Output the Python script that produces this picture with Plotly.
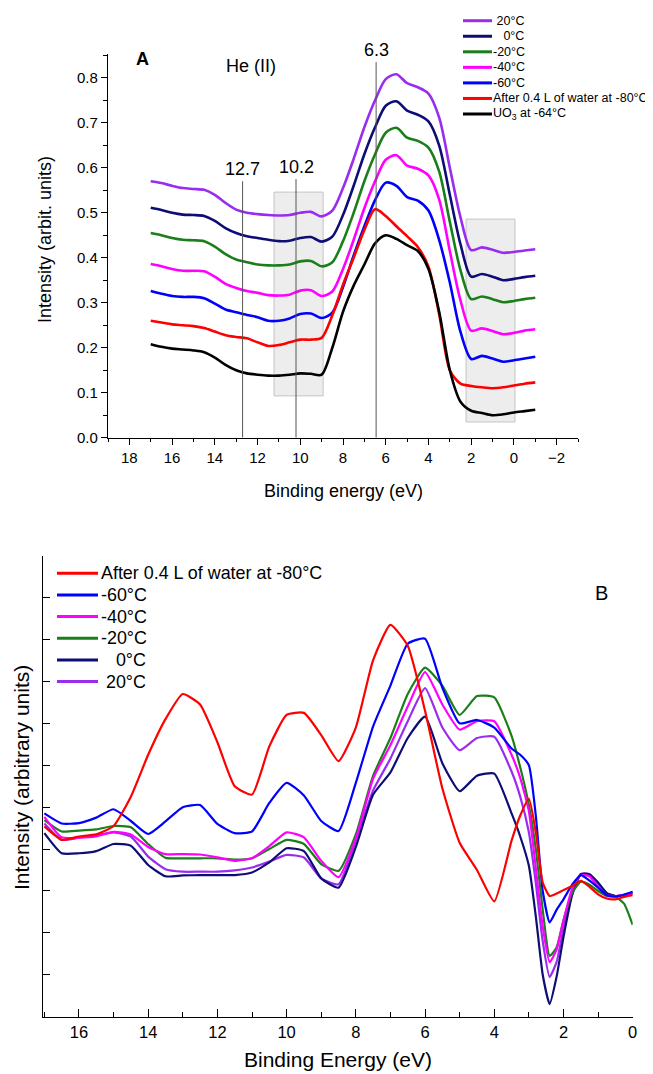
import plotly.graph_objects as go

FONT = "Liberation Sans, Arial, sans-serif"
# the page body has an 8px margin, so the figure is 8px smaller on each side
# and all layout positions below are given in the 653x1074 page pixels
OFF = 8
W, H = 653 - OFF, 1074 - OFF


def fx(px):
    return (px - OFF) / W


def fy(py):
    return 1 - (py - OFF) / H


# ---------------- panel A data (He II spectra, offset) ----------------
a_x = [17, 16.5, 16, 15.5, 15, 14.5, 14, 13.5, 13, 12.5, 12, 11.5, 11, 10.5, 10, 9.5, 9, 8.5,
       8, 7.5, 7, 6.5, 6, 5.5, 5, 4.5, 4, 3.5, 3, 2.5, 2, 1.5, 1, 0.5, 0, -0.5, -1]

a_20C = [.570, .566, .560, .555, .553, .551, .540, .522, .507, .500, .497, .495, .494, .495, .500, .502, .492, .505,
         .555, .620, .690, .750, .797, .808, .788, .779, .765, .712, .600, .490, .417, .423, .418, .411, .413, .416, .419]
a_0C = [.511, .506, .500, .496, .495, .493, .482, .466, .455, .448, .444, .440, .437, .438, .444, .446, .436, .447,
        .495, .560, .630, .690, .738, .748, .727, .718, .703, .650, .540, .430, .358, .364, .358, .350, .353, .357, .360]
a_m20C = [.455, .450, .444, .440, .439, .437, .425, .408, .396, .390, .385, .383, .383, .385, .392, .393, .381, .390,
          .437, .500, .570, .630, .678, .689, .667, .660, .645, .592, .480, .372, .308, .314, .308, .301, .304, .308, .311]
a_m40C = [.386, .381, .375, .371, .371, .370, .358, .342, .333, .326, .322, .317, .316, .318, .327, .328, .315, .325,
          .375, .440, .510, .570, .618, .628, .605, .598, .583, .530, .415, .305, .238, .243, .237, .230, .233, .238, .241]
a_m60C = [.326, .320, .315, .313, .313, .310, .298, .285, .279, .273, .268, .260, .260, .265, .275, .276, .266, .278,
          .335, .405, .470, .528, .567, .560, .535, .527, .505, .440, .345, .235, .175, .182, .176, .169, .172, .176, .180]
a_water = [.260, .256, .252, .250, .248, .244, .236, .228, .224, .221, .212, .204, .206, .212, .218, .218, .222, .272,
           .340, .400, .462, .508, .493, .470, .448, .424, .380, .275, .150, .120, .115, .112, .110, .112, .116, .120, .123]
a_uo3 = [.208, .202, .198, .196, .194, .190, .178, .162, .150, .143, .140, .138, .138, .140, .143, .142, .140, .200,
         .280, .338, .385, .432, .450, .442, .428, .415, .375, .280, .150, .080, .060, .055, .050, .052, .056, .059, .062]

a_names = ["\u00a020°C", "\u00a0\u00a0\u00a00°C", "-20°C", "-40°C", "-60°C",
           "After 0.4 L of water at -80°C", "UO<sub>3</sub> at -64°C"]
a_series = [a_20C, a_0C, a_m20C, a_m40C, a_m60C, a_water, a_uo3]
a_colors = ["#9a2cf0", "#0d0d75", "#1a7f1a", "#ff00ff", "#0000ff", "#ff0000", "#000000"]

# marker lines and shaded regions
peak_x = [12.7, 10.2, 6.45]
peak_top = [0.57, 0.575, 0.835]
peak_labels = ["12.7", "10.2", "6.3"]
boxes = [(11.23, 8.93, 0.093, 0.546), (2.24, -0.05, 0.035, 0.486)]

# ---------------- panel B data (difference spectra) ----------------
b_x = [17, 16.5, 16, 15.5, 15, 14.5, 14, 13.5, 13, 12.5, 12, 11.5, 11, 10.5, 10, 9.5, 9, 8.5, 8, 7.5,
       7, 6.5, 6, 5.5, 5, 4.5, 4, 3.5, 3.25, 3, 2.8, 2.6, 2.4, 2.2, 2, 1.75, 1.5, 1.25, 1, 0.75, 0.5, 0.25, 0]

b_water = [4.54, 4.22, 4.30, 4.35, 4.55, 5.25, 6.25, 7.10, 7.70, 7.45, 6.55, 5.50, 5.30, 6.45, 7.20, 7.25, 6.72, 6.10,
           6.90, 8.51, 9.35, 8.85, 7.30, 5.45, 4.15, 3.50, 2.75, 4.20, 4.80, 5.20, 4.40, 3.20, 2.88, 2.94, 3.02,
           3.12, 3.24, 3.10, 2.92, 2.82, 2.80, 2.86, 2.90]
b_m60C = [4.85, 4.61, 4.62, 4.75, 4.95, 4.67, 4.36, 4.66, 5.00, 5.05, 4.60, 4.38, 4.42, 5.10, 5.58, 5.28, 4.67, 4.43,
          5.58, 6.93, 7.90, 8.90, 9.02, 7.85, 7.00, 7.08, 6.90, 6.40, 6.25, 6.00, 4.80, 3.00, 2.25, 2.55, 2.80,
          3.15, 3.38, 3.25, 3.08, 2.90, 2.87, 2.91, 2.98]
b_m40C = [4.77, 4.28, 4.27, 4.30, 4.41, 4.35, 4.05, 3.88, 3.88, 3.87, 3.80, 3.72, 3.78, 4.07, 4.40, 4.28, 3.72, 3.33,
          4.25, 5.68, 6.48, 7.40, 8.22, 7.45, 6.85, 7.05, 7.05, 6.25, 5.70, 4.90, 3.55, 2.15, 1.30, 1.60, 2.30,
          3.05, 3.38, 3.35, 3.10, 2.90, 2.88, 2.91, 2.94]
b_m20C = [4.69, 4.42, 4.44, 4.47, 4.55, 4.52, 4.12, 3.79, 3.78, 3.78, 3.78, 3.75, 3.78, 4.00, 4.22, 4.12, 3.64, 3.48,
          4.35, 5.75, 6.65, 7.70, 8.33, 7.90, 7.20, 7.65, 7.62, 6.70, 5.95, 5.05, 4.00, 2.55, 1.45, 1.65, 2.30,
          2.95, 3.22, 3.15, 3.00, 2.88, 2.86, 2.70, 2.19]
b_0C = [4.38, 3.90, 3.90, 3.95, 4.12, 4.08, 3.62, 3.35, 3.37, 3.38, 3.38, 3.38, 3.44, 3.68, 4.02, 3.95, 3.30, 3.08,
        4.05, 5.30, 5.83, 6.65, 7.16, 6.05, 5.38, 5.75, 5.80, 4.85, 4.30, 3.60, 2.40, 1.00, 0.30, 0.95, 1.90,
        2.90, 3.40, 3.40, 3.20, 2.95, 2.88, 2.90, 2.94]
b_20C = [4.61, 4.22, 4.27, 4.33, 4.40, 4.30, 3.82, 3.52, 3.46, 3.46, 3.46, 3.49, 3.56, 3.70, 3.86, 3.80, 3.30, 3.16,
         4.20, 5.40, 6.16, 7.05, 7.84, 6.90, 6.36, 6.65, 6.68, 5.85, 5.25, 4.40, 3.20, 1.80, 0.95, 1.30, 2.10,
         2.95, 3.40, 3.40, 3.18, 2.95, 2.88, 2.91, 2.98]

b_names = ["After 0.4 L of water at -80°C", "-60°C", "-40°C", "-20°C",
           "\u00a0\u00a0\u00a00°C", "\u00a020°C"]
b_series = [b_water, b_m60C, b_m40C, b_m20C, b_0C, b_20C]
b_colors = ["#ff0000", "#0000ff", "#ff00ff", "#1a7f1a", "#0d0d75", "#9a2cf0"]

fig = go.Figure()

for name, ys, col in zip(a_names, a_series, a_colors):
    fig.add_trace(go.Scatter(x=a_x, y=ys, mode="lines", name=name, showlegend=False,
                             line=dict(color=col, width=2.6, shape="spline", smoothing=0.8),
                             xaxis="x", yaxis="y"))

# draw B in reverse so red ends up on top like the original
for name, ys, col in reversed(list(zip(b_names, b_series, b_colors))):
    fig.add_trace(go.Scatter(x=b_x, y=ys, mode="lines", name=name, showlegend=False,
                             line=dict(color=col, width=2.2, shape="spline", smoothing=0.5),
                             xaxis="x2", yaxis="y2"))

shapes = []
annotations = []

# shaded boxes and marker lines (panel A)
for x0, x1, y0, y1 in boxes:
    shapes.append(dict(type="rect", xref="x", yref="y", x0=x0, x1=x1, y0=y0, y1=y1,
                       fillcolor="rgba(215,215,215,0.45)", line=dict(color="#c4c4c4", width=1), layer="below"))
for px, top, lab in zip(peak_x, peak_top, peak_labels):
    shapes.append(dict(type="line", xref="x", yref="y", x0=px, x1=px, y0=0, y1=top,
                       line=dict(color="#555555", width=1)))
    annotations.append(dict(x=px, y=top, xref="x", yref="y", text=lab, showarrow=False,
                            yanchor="bottom", yshift=0, font=dict(size=18, color="black")))

annotations.append(dict(x=17.4, y=0.841, xref="x", yref="y", text="<b>A</b>", showarrow=False,
                        font=dict(size=18, color="black")))
annotations.append(dict(x=12.3, y=0.826, xref="x", yref="y", text="He (II)", showarrow=False,
                        font=dict(size=18, color="black")))
annotations.append(dict(x=0.9, y=10.11, xref="x2", yref="y2", text="B", showarrow=False,
                        font=dict(size=20, color="black")))


# manual legends (pixel positions of the original figure)
def add_legend(names, colors, x_line0, x_line1, x_text, y_first, step, size):
    for i, (nm, col) in enumerate(zip(names, colors)):
        yy = fy(y_first + i * step)
        shapes.append(dict(type="line", xref="paper", yref="paper", x0=fx(x_line0), x1=fx(x_line1),
                           y0=yy, y1=yy, line=dict(color=col, width=3)))
        annotations.append(dict(x=fx(x_text), y=yy, xref="paper", yref="paper", text=nm,
                                showarrow=False, xanchor="left", yanchor="middle",
                                font=dict(size=size, color="black")))


add_legend(a_names, a_colors, 463, 492, 490.5, 20.7, 15.55, 12.5)
add_legend(b_names, b_colors, 57, 98, 99, 573.3, 21.65, 17.9)

# axis titles
title_common = dict(xref="paper", yref="paper", showarrow=False, xanchor="center", yanchor="middle")
annotations += [
    dict(x=fx(343), y=fy(491), text="Binding energy (eV)", font=dict(size=18, color="black"), **title_common),
    dict(x=fx(45), y=fy(240), text="Intensity (arbit. units)", textangle=-90,
         font=dict(size=18, color="black"), **title_common),
    dict(x=fx(338), y=fy(1059), text="Binding Energy (eV)", font=dict(size=21, color="black"), **title_common),
    dict(x=fx(21), y=fy(778), text="Intensity (arbitrary units)", textangle=-90,
         font=dict(size=21, color="black"), **title_common),
]

axis_common = dict(showline=True, linecolor="black", linewidth=1.3, showgrid=False, zeroline=False,
                   tickcolor="black", tickwidth=1.2, mirror=False)

fig.update_layout(
    width=W, height=H,
    margin=dict(l=0, r=0, t=0, b=0, autoexpand=False),
    paper_bgcolor="white", plot_bgcolor="white",
    font=dict(family=FONT, color="black"),
    showlegend=False,
    shapes=shapes,
    annotations=annotations,
    xaxis=dict(domain=[fx(108), fx(578)], anchor="y", range=[19, -3], tick0=0, dtick=2,
               ticks="outside", ticklen=6, tickfont=dict(size=15),
               minor=dict(dtick=1, ticks="outside", ticklen=3.5, tickcolor="black"), **axis_common),
    yaxis=dict(domain=[fy(437.7), fy(54)], anchor="x", range=[0, 0.853], tick0=0, dtick=0.1,
               tickformat=".1f", ticks="outside", ticklen=6, tickfont=dict(size=15),
               minor=dict(dtick=0.05, ticks="outside", ticklen=3.5, tickcolor="black"), **axis_common),
    xaxis2=dict(domain=[fx(43.3), fx(632.7)], anchor="y2", range=[17.03, 0], tick0=0, dtick=2,
                ticks="inside", ticklen=8, tickfont=dict(size=16.5),
                minor=dict(dtick=1, ticks="inside", ticklen=5, tickcolor="black"), **axis_common),
    yaxis2=dict(domain=[fy(1016.7), fy(555.7)], anchor="x2", range=[0, 11], tick0=0, dtick=1,
                ticks="inside", ticklen=7, showticklabels=False, **axis_common),
)

fig.write_html("out.html")
